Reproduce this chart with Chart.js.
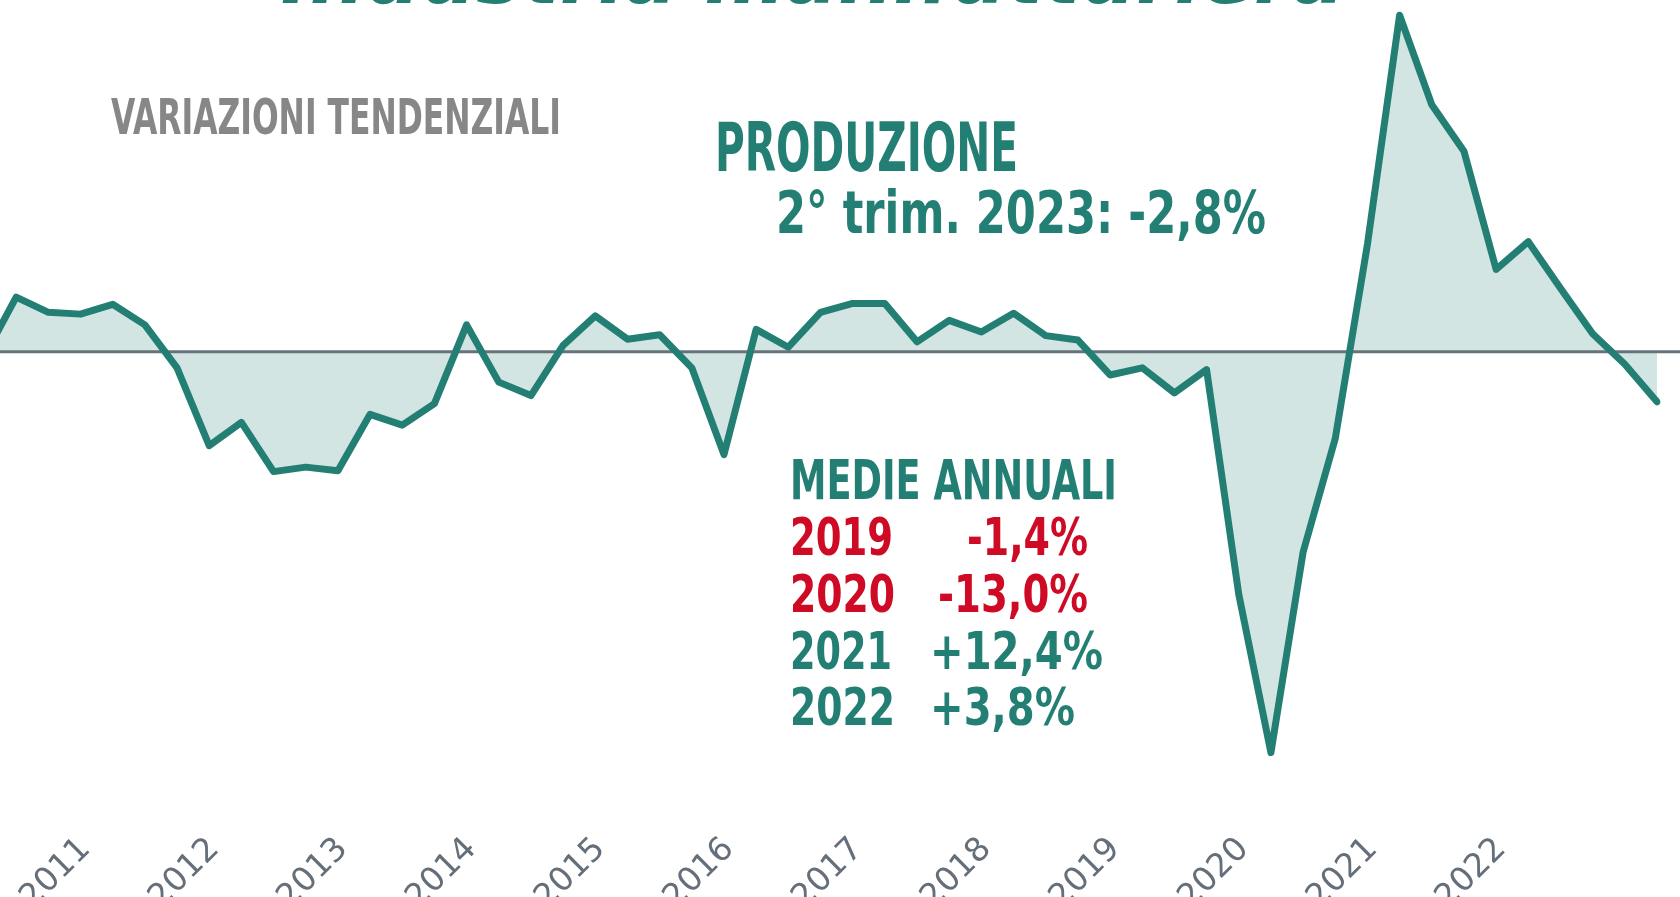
<!DOCTYPE html>
<html lang="it">
<head>
<meta charset="utf-8">
<title>Industria manifatturiera</title>
<script src="https://cdn.jsdelivr.net/npm/chart.js@4.4.0/dist/chart.umd.min.js"></script>
<style>
  html, body { margin: 0; padding: 0; width: 1680px; height: 897px; overflow: hidden; background: #fff; }
  #wrap { position: absolute; left: -50px; top: -42px; width: 1748px; height: 959px; }
  .note {
    position: absolute; white-space: nowrap; line-height: 1; font-weight: bold;
    font-family: 'Liberation Sans Narrow', 'DejaVu Sans Condensed', 'Liberation Sans', sans-serif;
    transform-origin: 0 0;
  }
  .teal { color: #237f74; }
  .red { color: #cf0a25; }
</style>
</head>
<body>
<div id="wrap"><canvas id="chart" width="1748" height="959"></canvas></div>

<!-- titolo tagliato in alto -->
<div class="note teal" style="left:281px; top:-64px; font-size:80px; font-style:italic" data-w="1064">Industria manifatturiera</div>

<div class="note" style="left:111px; top:93px; font-size:49px; color:#878787" data-w="450">VARIAZIONI TENDENZIALI</div>
<div class="note teal" style="left:715px; top:115px; font-size:67px" data-w="303">PRODUZIONE</div>
<div class="note teal" style="left:776px; top:184px; font-size:58px" data-w="490">2° trim. 2023: -2,8%</div>

<div class="note teal" style="left:790px; top:453px; font-size:55px" data-w="327">MEDIE ANNUALI</div>
<div class="note red" style="left:790px; top:512px; font-size:51px" data-w="103">2019</div>
<div class="note red" style="left:967px; top:512px; font-size:51px" data-w="121">-1,4%</div>
<div class="note red" style="left:790px; top:569px; font-size:51px" data-w="105">2020</div>
<div class="note red" style="left:938px; top:569px; font-size:51px" data-w="150">-13,0%</div>
<div class="note teal" style="left:790px; top:626px; font-size:51px" data-w="102">2021</div>
<div class="note teal" style="left:930px; top:626px; font-size:51px" data-w="173">+12,4%</div>
<div class="note teal" style="left:790px; top:682px; font-size:51px" data-w="105">2022</div>
<div class="note teal" style="left:930px; top:682px; font-size:51px" data-w="145">+3,8%</div>

<script>
// trimestri (dal 2° trim. 2010 al 2° trim. 2023)
const quarters = [
  '2010 T2', '2010 T3', '2010 T4',
  '2011 T1', '2011 T2', '2011 T3', '2011 T4',
  '2012 T1', '2012 T2', '2012 T3', '2012 T4',
  '2013 T1', '2013 T2', '2013 T3', '2013 T4',
  '2014 T1', '2014 T2', '2014 T3', '2014 T4',
  '2015 T1', '2015 T2', '2015 T3', '2015 T4',
  '2016 T1', '2016 T2', '2016 T3', '2016 T4',
  '2017 T1', '2017 T2', '2017 T3', '2017 T4',
  '2018 T1', '2018 T2', '2018 T3', '2018 T4',
  '2019 T1', '2019 T2', '2019 T3', '2019 T4',
  '2020 T1', '2020 T2', '2020 T3', '2020 T4',
  '2021 T1', '2021 T2', '2021 T3', '2021 T4',
  '2022 T1', '2022 T2', '2022 T3', '2022 T4',
  '2023 T1', '2023 T2'
];

// variazioni tendenziali della produzione (%)
const production = [
  -0.3, 3.05, 2.2,
  2.1, 2.65, 1.5, -0.9,
  -5.25, -3.95, -6.7, -6.45,
  -6.65, -3.5, -4.1, -2.9,
  1.5, -1.7, -2.45, 0.35,
  2.0, 0.7, 0.95, -0.9,
  -5.75, 1.25, 0.25, 2.2,
  2.7, 2.7, 0.55, 1.75,
  1.1, 2.15, 0.9, 0.65,
  -1.3, -0.9, -2.3, -1.0,
  -13.55, -22.4, -11.2, -4.85,
  6.0, 18.8, 13.8, 11.2,
  4.6, 6.15, 3.55, 1.0,
  -0.7, -2.8
];

// anni mostrati sull'asse (al primo trimestre)
const yearTicks = ['2011', '2012', '2013', '2014', '2015', '2016', '2017', '2018', '2019', '2020', '2021', '2022'];

const teal = '#237f74';
const tealFill = '#d2e5e2';

// linea dello zero su tutta la larghezza
const zeroLine = {
  id: 'zeroLine',
  beforeDatasetsDraw(chart) {
    const ctx = chart.ctx;
    const y = chart.scales.y.getPixelForValue(0);
    ctx.save();
    ctx.strokeStyle = '#67737b';
    ctx.lineWidth = 3;
    ctx.beginPath();
    ctx.moveTo(0, y);
    ctx.lineTo(chart.width, y);
    ctx.stroke();
    ctx.restore();
  }
};

new Chart(document.getElementById('chart'), {
  type: 'line',
  data: {
    labels: quarters,
    datasets: [{
      data: production,
      borderColor: teal,
      backgroundColor: tealFill,
      borderWidth: 7,
      borderJoinStyle: 'round',
      borderCapStyle: 'round',
      pointRadius: 0,
      tension: 0,
      fill: 'origin'
    }]
  },
  options: {
    responsive: false,
    animation: false,
    layout: { padding: { left: 34, right: 21, top: 0, bottom: 0 } },
    plugins: {
      legend: { display: false },
      tooltip: { enabled: false },
      filler: { drawTime: 'beforeDatasetsDraw' }
    },
    scales: {
      x: {
        offset: false,
        grid: { display: false, drawTicks: false },
        border: { display: false },
        afterFit: scale => { scale.height = 100; },
        ticks: {
          autoSkip: false,
          minRotation: 45,
          maxRotation: 45,
          padding: 13,
          labelOffset: 5,
          color: '#646f79',
          font: { family: 'DejaVu Sans', size: 33 },
          callback: function (value) {
            const [year, q] = this.getLabelForValue(value).split(' ');
            return q === 'T1' && yearTicks.includes(year) ? year : '';
          }
        }
      },
      y: {
        display: false,
        min: -26,
        max: 22
      }
    }
  },
  plugins: [zeroLine]
});

// adatta la larghezza dei testi
document.querySelectorAll('.note').forEach(el => {
  const w = el.getBoundingClientRect().width;
  el.style.transform = `scaleX(${el.dataset.w / w})`;
});
</script>
</body>
</html>
